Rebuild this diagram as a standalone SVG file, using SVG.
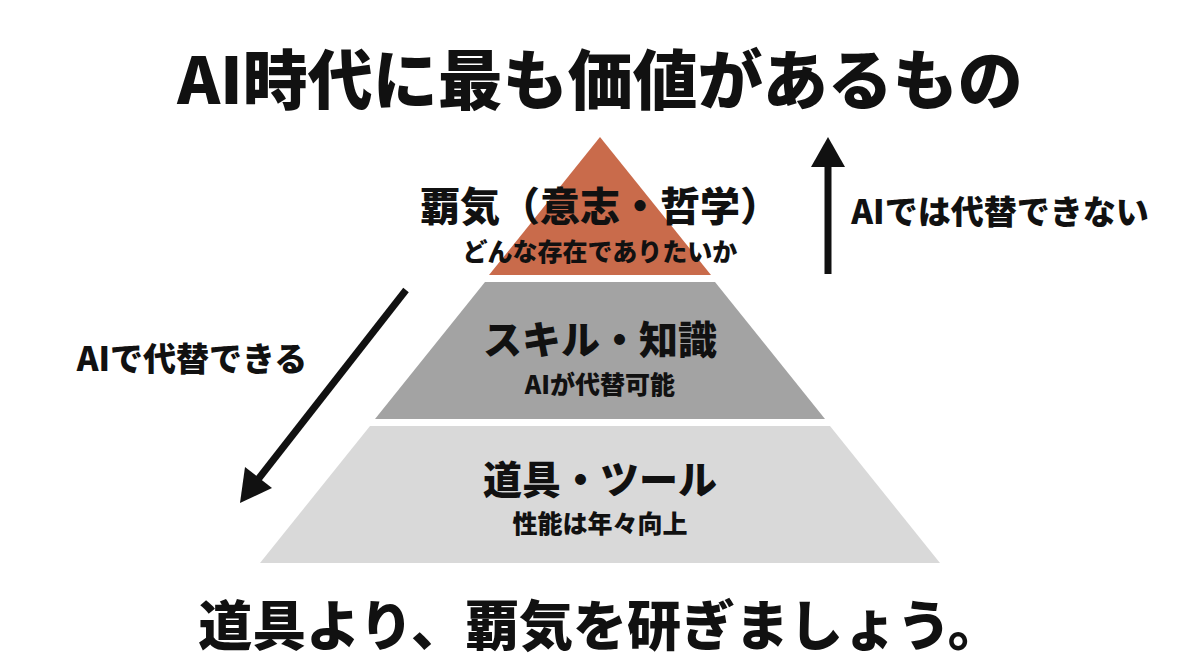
<svg xmlns="http://www.w3.org/2000/svg" width="1200" height="670" viewBox="0 0 1200 670">
<style>
text{font-family:"Noto Sans CJK JP","Noto Sans",sans-serif;font-weight:900;fill:#111;text-anchor:middle;dominant-baseline:central}
.t{font-size:65px}
.h{font-size:40px}
.m{font-size:39px}
.s{font-size:25px}
.l{font-size:33px}
.b{font-size:54px}
</style>
<rect width="1200" height="670" fill="#fff"/>
<text class="t" x="600" y="76">AI時代に最も価値があるもの</text>
<g id="top">
<polygon points="600,137 711,275 489,275" fill="#C96B4B"/>
<text class="h" x="600" y="204">覇気（意志・哲学）</text>
<text class="s" x="600" y="250">どんな存在でありたいか</text>
</g>
<g id="middle">
<polygon points="485,282 715,282 825,419 375,419" fill="#A3A3A3"/>
<text class="m" x="600" y="337">スキル・知識</text>
<text class="s" x="600" y="383">AIが代替可能</text>
</g>
<g id="bottom">
<polygon points="370,426 830,426 940,563 260,563" fill="#D9D9D9"/>
<text class="m" x="600" y="477">道具・ツール</text>
<text class="s" x="600" y="522">性能は年々向上</text>
</g>
<g id="connectors" fill="#111" stroke="#111">
<line x1="828" y1="274" x2="828" y2="160" stroke-width="7"/>
<polygon points="828,137 845,167 811,167" stroke="none"/>
<line x1="406" y1="290" x2="256" y2="482" stroke-width="7"/>
<polygon points="240,503 245,467 272,488" stroke="none"/>
</g>
<text class="l" x="1000" y="210">AIでは代替できない</text>
<text class="l" x="192" y="357">AIで代替できる</text>
<text class="b" x="600" y="622">道具より、覇気を研ぎましょう。</text>
</svg>
